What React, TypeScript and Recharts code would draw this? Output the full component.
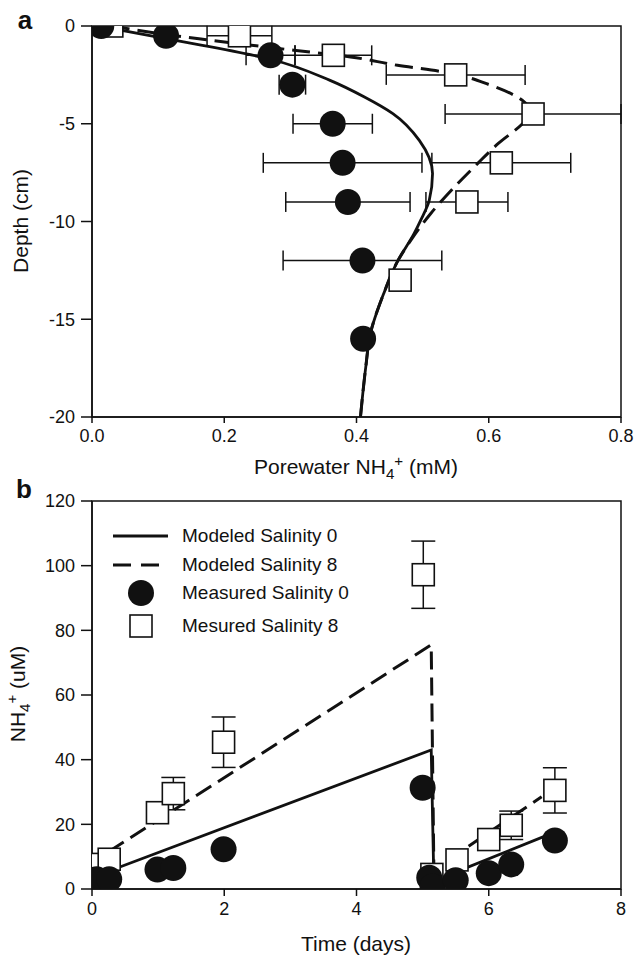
import {
  ScatterChart, Scatter, XAxis, YAxis, ErrorBar, ReferenceArea, Legend,
} from 'recharts';

// Panel a: porewater profiles
const poreTicks = [0, 0.2, 0.4, 0.6, 0.8];
const depthTicks = [-20, -15, -10, -5, 0];

const sal0Depth = [0, -0.5, -1.5, -3, -5, -7, -9, -12, -16];
const sal0Conc = [0.014, 0.112, 0.27, 0.303, 0.364, 0.379, 0.387, 0.409, 0.41];
const sal0Err = [0, 0, 0.037, 0.02, 0.06, 0.12, 0.094, 0.12, 0];

const sal8Depth = [0, -0.5, -1.5, -2.5, -4.5, -7, -9, -13];
const sal8Conc = [0.03, 0.223, 0.365, 0.55, 0.667, 0.619, 0.567, 0.466];
const sal8Err = [0, 0.049, 0.058, 0.105, 0.133, 0.105, 0.062, 0];

const model0Depth = [0, -0.7, -1.7, -2.78, -3.63, -4.48, -5.85, -7.55, -8.92, -9.94, -10.62, -12.04, -13.7, -15.74, -17.45, -20];
const model0Conc = [0.01, 0.12, 0.27, 0.36, 0.412, 0.455, 0.495, 0.515, 0.51, 0.497, 0.487, 0.462, 0.441, 0.421, 0.414, 0.406];

const model8Depth = [0, -0.39, -0.7, -1.24, -1.58, -2.01, -2.35, -3.03, -3.89, -4.45, -5.0, -6.02, -7.04, -8.24, -9.6, -10.97, -12.04, -13.7, -15.74, -17.45, -20];
const model8Conc = [0.03, 0.103, 0.173, 0.305, 0.391, 0.462, 0.532, 0.603, 0.654, 0.665, 0.651, 0.614, 0.583, 0.548, 0.512, 0.482, 0.462, 0.441, 0.421, 0.414, 0.406];

// Panel b: time series
const timeTicks = [0, 2, 4, 6, 8];
const nh4Ticks = [0, 20, 40, 60, 80, 100, 120];

const meas0Time = [0.07, 0.26, 0.99, 1.23, 1.99, 5.0, 5.1, 5.15, 5.5, 6.0, 6.34, 7.0];
const meas0Nh4 = [3, 3, 6, 6.5, 12.3, 31.3, 3.5, 0.8, 2.7, 4.9, 7.6, 15];

const meas8Time = [0.06, 0.26, 0.99, 1.23, 1.99, 5.01, 5.14, 5.52, 6.0, 6.34, 7.0];
const meas8Nh4 = [7.6, 9.2, 23.6, 29.5, 45.4, 97.2, 4.5, 9, 15.3, 19.7, 30.5];
const meas8Err = [0, 0, 0, 5, 7.8, 10.4, 0, 0, 0, 4.4, 7];

const mod0Time = [0.25, 5.13, 5.17, 7.0];
const mod0Nh4 = [5.5, 43, 2.5, 17.6];
const mod8Time = [0.25, 5.13, 5.17, 6.8];
const mod8Nh4 = [11.5, 75.5, 6, 28.5];

const legendLabels = ['Modeled Salinity 0', 'Modeled Salinity 8', 'Measured Salinity 0', 'Mesured Salinity 8'];

const INK = '#111';
const FONT = "'Liberation Sans', Arial, sans-serif";
const FS = 19;
const TITLE_FS = 21;
const TICK = { fontSize: 18, fill: INK, fontFamily: FONT };

const zip = (xs: number[], ys: number[], es?: number[]) =>
  xs.map((x, i) => ({ x, y: ys[i], e: es ? es[i] : 0 }));

const Circle = (p: any) => <circle cx={p.cx} cy={p.cy} r={13} fill={INK} />;
const Square = (p: any) => (
  <rect x={p.cx - 11} y={p.cy - 11} width={22} height={22} fill="#fff" stroke={INK} strokeWidth={1.6} />
);
const NoDot = () => <g />;

const SOLID = { stroke: INK, strokeWidth: 2.8 };
const DASHED = { stroke: INK, strokeWidth: 3, strokeDasharray: '18 8' };

function LegendBox() {
  const rows = [56, 85, 113, 146];
  return (
    <div style={{ position: 'relative', width: 280, height: 170, fontFamily: FONT, fontSize: FS, color: INK }}>
      <svg width={70} height={170} style={{ position: 'absolute', left: 0, top: 0 }}>
        <line x1={3} x2={58} y1={rows[0]} y2={rows[0]} {...SOLID} />
        <line x1={3} x2={58} y1={rows[1]} y2={rows[1]} {...DASHED} strokeDasharray="18 10" />
        <circle cx={31} cy={rows[2]} r={13} fill={INK} />
        <rect x={20} y={rows[3] - 11} width={22} height={22} fill="#fff" stroke={INK} strokeWidth={1.6} />
      </svg>
      {legendLabels.map((l, i) => (
        <div key={l} style={{ position: 'absolute', left: 72, top: rows[i] - 11, lineHeight: '22px', whiteSpace: 'nowrap' }}>{l}</div>
      ))}
    </div>
  );
}

const label = (left: number, top: number, rotate: boolean, children: any, extra: any = {}) => (
  <div
    style={{
      position: 'absolute', left, top, whiteSpace: 'nowrap', fontFamily: FONT, fontSize: TITLE_FS, color: INK, lineHeight: '24px',
      transform: rotate ? 'translate(-50%,-50%) rotate(-90deg)' : 'translate(-50%,-50%)', ...extra,
    }}
  >
    {children}
  </div>
);

const SUB = { fontSize: '0.72em', verticalAlign: '-0.3em', lineHeight: 0 };
const SUP = { fontSize: '0.72em', verticalAlign: '0.55em', lineHeight: 0 };

export default function App() {
  return (
    <div style={{ position: 'absolute', left: 0, top: 0, width: 637, height: 956, background: '#fff' }}>
      <ScatterChart width={637} height={480} margin={{ top: 26, right: 16, bottom: 0, left: 0 }}>
        <XAxis type="number" dataKey="x" domain={[0, 0.8]} ticks={poreTicks} tickFormatter={(v: number) => v.toFixed(1)}
          height={63} tick={TICK} tickSize={6} tickMargin={6} stroke={INK} strokeWidth={1.5} allowDataOverflow />
        <YAxis type="number" dataKey="y" domain={[-20, 0]} ticks={depthTicks} width={92}
          tick={TICK} tickSize={11} tickMargin={6} stroke={INK} strokeWidth={1.5} allowDataOverflow />
        <ReferenceArea x1={0} x2={0.8} y1={-20} y2={0} fill="none" stroke={INK} strokeWidth={1.5} />
        <Scatter data={zip(model0Conc, model0Depth)} line={SOLID} lineJointType="monotoneY" shape={NoDot} isAnimationActive={false} />
        <Scatter data={zip(model8Conc, model8Depth)} line={DASHED} lineJointType="monotoneY" shape={NoDot} isAnimationActive={false} />
        <Scatter data={zip(sal8Conc, sal8Depth, sal8Err)} shape={Square} isAnimationActive={false}>
          <ErrorBar dataKey="e" direction="x" width={10} stroke={INK} strokeWidth={1.5} isAnimationActive={false} />
        </Scatter>
        <Scatter data={zip(sal0Conc, sal0Depth, sal0Err)} shape={Circle} isAnimationActive={false}>
          <ErrorBar dataKey="e" direction="x" width={10} stroke={INK} strokeWidth={1.5} isAnimationActive={false} />
        </Scatter>
      </ScatterChart>

      <ScatterChart width={637} height={476} margin={{ top: 21, right: 16, bottom: 0, left: 0 }}>
        <XAxis type="number" dataKey="x" domain={[0, 8]} ticks={timeTicks}
          height={67} tick={TICK} tickSize={7} tickMargin={6} stroke={INK} strokeWidth={1.5} allowDataOverflow />
        <YAxis type="number" dataKey="y" domain={[0, 120]} ticks={nh4Ticks} width={92}
          tick={TICK} tickSize={11} tickMargin={6} stroke={INK} strokeWidth={1.5} allowDataOverflow />
        <ReferenceArea x1={0} x2={8} y1={0} y2={120} fill="none" stroke={INK} strokeWidth={1.5} />
        <Legend layout="vertical" align="center" verticalAlign="middle" content={() => <LegendBox />}
          wrapperStyle={{ left: 110, top: 0, width: 280 }} />
        <Scatter data={zip(mod0Time, mod0Nh4)} line={SOLID} shape={NoDot} isAnimationActive={false} />
        <Scatter data={zip(mod8Time, mod8Nh4)} line={DASHED} shape={NoDot} isAnimationActive={false} />
        <Scatter data={zip(meas8Time, meas8Nh4, meas8Err)} shape={Square} isAnimationActive={false}>
          <ErrorBar dataKey="e" direction="y" width={12} stroke={INK} strokeWidth={1.5} isAnimationActive={false} />
        </Scatter>
        <Scatter data={zip(meas0Time, meas0Nh4)} shape={Circle} isAnimationActive={false} />
      </ScatterChart>

      {label(25, 20, false, 'a', { fontSize: 26, fontWeight: 700 })}
      {label(24, 489, false, 'b', { fontSize: 26, fontWeight: 700 })}
      {label(21, 221, true, 'Depth (cm)')}
      {label(356, 467, false, <span>Porewater NH<span style={SUB}>4</span><span style={SUP}>+</span> (mM)</span>)}
      {label(18, 694, true, <span>NH<span style={SUB}>4</span><span style={SUP}>+</span> (uM)</span>)}
      {label(356, 944, false, 'Time (days)')}
    </div>
  );
}
